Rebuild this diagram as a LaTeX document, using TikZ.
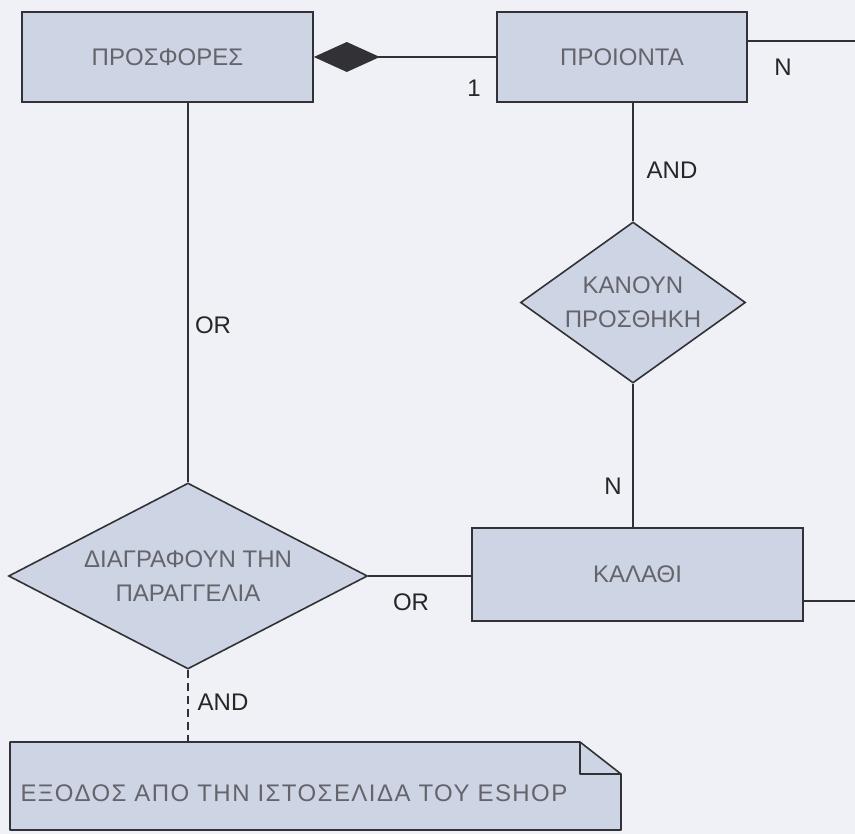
\documentclass[tikz,border=0pt]{standalone}
\usepackage{fontspec}
\setmainfont{Liberation Sans}
\usetikzlibrary{calc,arrows.meta,shapes.geometric}
\definecolor{paper}{RGB}{240,241,247}
\definecolor{boxfill}{RGB}{205,212,228}
\definecolor{edgecol}{RGB}{50,50,54}
\definecolor{txtgrey}{RGB}{100,100,106}
\tikzset{
  entity/.style={rectangle,draw=edgecol,fill=boxfill,line width=1.6pt,text=txtgrey,font=\fontsize{24}{34}\selectfont},
  relation/.style={diamond,draw=edgecol,fill=boxfill,line width=1.6pt,text=txtgrey,align=center,inner sep=0pt,font=\fontsize{24}{34}\selectfont},
  lbl/.style={text=black!85,font=\fontsize{24}{28}\selectfont,inner sep=0pt},
  conn/.style={draw=edgecol,line width=1.6pt}
}

\begin{document}
\begin{tikzpicture}[x=1pt,y=-1pt]
\fill[paper] (0,0) rectangle (855,834);
\useasboundingbox (0,0) rectangle (855,834);

\node[entity,minimum width=291pt,minimum height=90pt](offers)at(167.5,57){ΠΡΟΣΦΟΡΕΣ};
\node[entity,minimum width=250pt,minimum height=90pt](products)at(622,57){ΠΡΟΙΟΝΤΑ};
\node[relation,aspect=1.4,minimum width=225pt,minimum height=161pt](addto)at(633,302.5){ΚΑΝΟΥΝ\\ΠΡΟΣΘΗΚΗ};
\node[entity,minimum width=331pt,minimum height=93pt](basket)at(637.5,574.5){ΚΑΛΑΘΙ};
\node[relation,aspect=2,minimum width=359pt,minimum height=186pt](cancel)at(188,576){ΔΙΑΓΡΑΦΟΥΝ ΤΗΝ\\ΠΑΡΑΓΓΕΛΙΑ};

\coordinate (noteNW) at (10,742);
\coordinate (noteSE) at (621,830);
\coordinate (foldA) at (580,742);
\coordinate (foldB) at (621,774);
\filldraw[fill=boxfill,draw=edgecol,line width=1.6pt,line join=round] (noteNW) -- (foldA) -- (foldB) -- (noteSE) -- (noteNW |- noteSE) -- cycle;
\draw[conn,line join=round] (foldA) -- (foldA |- foldB) -- (foldB);
\node[inner sep=0pt,text width=590pt,align=left,text=txtgrey,font=\fontsize{24}{34}\selectfont\addfontfeature{LetterSpace=6}](exitnote)at($(noteNW)!0.5!(noteSE)+(0,7)$){ΕΞΟΔΟΣ ΑΠΟ ΤΗΝ ΙΣΤΟΣΕΛΙΔΑ ΤΟΥ ESHOP};

\coordinate (prodout) at ($(products.north east)+(0,30)$);
\coordinate (basketout) at ($(basket.south east)+(0,-21)$);
\coordinate (rtop) at (prodout -| 857,0);
\coordinate (rbot) at (basketout -| 857,0);

\draw[conn,-{Diamond[length=66pt,width=30pt]}] (products.west) -- (offers.east);
\draw[conn] (prodout) -- (rtop) -- (rbot) -- (basketout);
\draw[conn] (products.south -| addto.north) -- (addto.north);
\draw[conn] (addto.south) -- (addto.south |- basket.north);
\draw[conn] (offers.south -| cancel.north) -- (cancel.north);
\draw[conn] (cancel.east) -- (cancel.east -| basket.west);
\draw[conn,dash pattern=on 8pt off 5pt] (cancel.south) -- (cancel.south |- noteNW);

\node[lbl](one)at(474,88){1};
\node[lbl](manyA)at(783,67){N};
\node[lbl](andA)at(672,170){AND};
\node[lbl](manyB)at(613,486){N};
\node[lbl](orA)at(213,325){OR};
\node[lbl](orB)at(411,602){OR};
\node[lbl](andB)at(223,702){AND};
\end{tikzpicture}
\end{document}
